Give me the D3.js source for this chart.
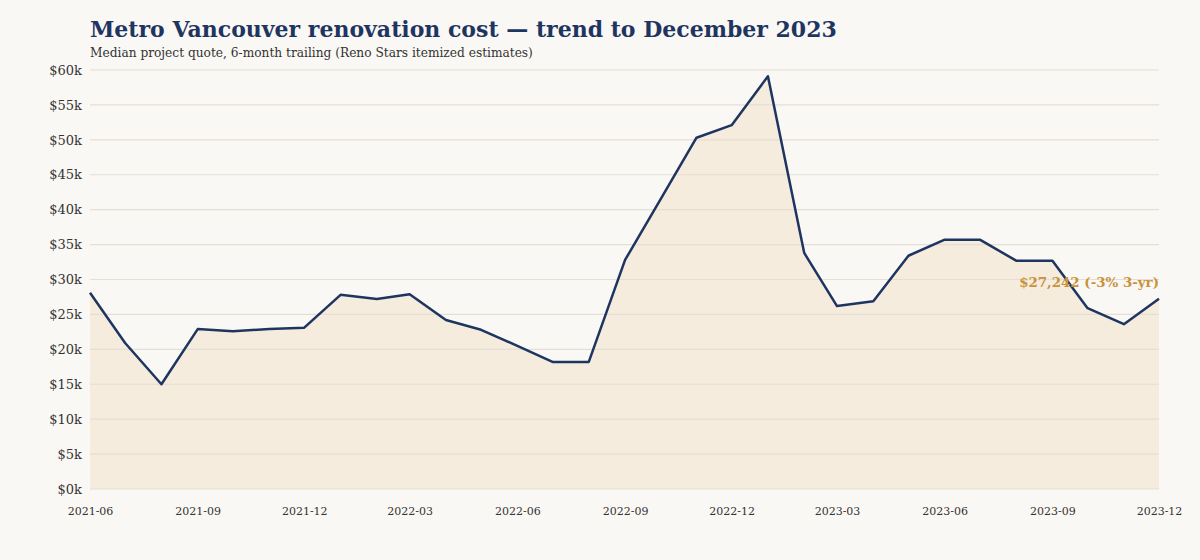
<!DOCTYPE html>
<html>
<head>
<meta charset="utf-8">
<script src="https://cdn.jsdelivr.net/npm/d3@7"></script>
<style>
  body { margin: 0; background: #faf8f4; }
  svg { display: block; font-family: Georgia, "DejaVu Serif", serif; }
</style>
</head>
<body>
<div id="chart"></div>
<script>
"use strict"
// Monthly 6-month trailing median quote, 2021-06 .. 2023-12
var months = [
    "2021-06", "2021-07", "2021-08", "2021-09", "2021-10", "2021-11", "2021-12",
    "2022-01", "2022-02", "2022-03", "2022-04", "2022-05", "2022-06", "2022-07",
    "2022-08", "2022-09", "2022-10", "2022-11", "2022-12", "2023-01", "2023-02",
    "2023-03", "2023-04", "2023-05", "2023-06", "2023-07", "2023-08", "2023-09",
    "2023-10", "2023-11", "2023-12"
];
var medianQuote = [
    28100, 20900, 15000, 22900, 22600, 22900, 23100,
    27800, 27200, 27900, 24200, 22800, 20500, 18200,
    18200, 32800, 41400, 50300, 52100, 59100, 33800,
    26200, 26900, 33400, 35700, 35700, 32700, 32700,
    25900, 23600, 27242
];
var yTicks = [0, 5000, 10000, 15000, 20000, 25000, 30000, 35000, 40000, 45000, 50000, 55000, 60000];
var xTickLabels = ["2021-06", "2021-09", "2021-12", "2022-03", "2022-06", "2022-09", "2022-12", "2023-03", "2023-06", "2023-09", "2023-12"];
var title = "Metro Vancouver renovation cost \u2014 trend to December 2023";
var subtitle = "Median project quote, 6-month trailing (Reno Stars itemized estimates)";
var endNote = "$27,242 (-3% 3-yr)";

var width = 1200, height = 560;
var margin = {top: 70, right: 41, bottom: 71, left: 90};
var drawWidth = width - margin.left - margin.right;
var drawHeight = height - margin.top - margin.bottom;

var parse = d3.timeParse("%Y-%m");
var data = months.map(function(m, i) { return {date: parse(m), value: medianQuote[i]}; });

var xScale = d3.scaleTime().domain(d3.extent(data, function(d) { return d.date; })).range([0, drawWidth]);
var yScale = d3.scaleLinear().domain([0, 60000]).range([drawHeight, 0]);

var svg = d3.select("#chart").append("svg").attr("width", width).attr("height", height);
svg.append("rect").attr("width", width).attr("height", height).attr("fill", "#faf8f4");

svg.append("text")
    .attr("x", 90).attr("y", 37)
    .attr("fill", "#1f3561")
    .style("font-size", "22px").style("font-weight", "bold")
    .text(title);
svg.append("text")
    .attr("x", 90).attr("y", 57)
    .attr("fill", "#333")
    .style("font-size", "12.2px")
    .text(subtitle);

var g = svg.append("g").attr("transform", "translate(" + margin.left + "," + margin.top + ")");

// area under the line
var area = d3.area()
    .x(function(d) { return xScale(d.date); })
    .y0(drawHeight)
    .y1(function(d) { return yScale(d.value); });
g.append("path").datum(data).attr("d", area).attr("fill", "#f5ecdd");

// gridlines
g.selectAll(".grid").data(yTicks).enter().append("line")
    .attr("class", "grid")
    .attr("x1", 0).attr("x2", drawWidth)
    .attr("y1", function(d) { return yScale(d); })
    .attr("y2", function(d) { return yScale(d); })
    .attr("stroke", "#e4ded4").attr("stroke-width", 1.2);

// y axis
var yAxis = d3.axisLeft(yScale).tickValues(yTicks).tickSize(0).tickPadding(8)
    .tickFormat(function(d) { return "$" + (d / 1000) + "k"; });
var yG = g.append("g").call(yAxis).attr("font-family", null).attr("font-size", null);
yG.select(".domain").remove();
yG.selectAll("text").attr("fill", "#333").style("font-size", "13px");

// x axis
var xAxis = d3.axisBottom(xScale).tickValues(xTickLabels.map(parse)).tickSize(0).tickPadding(18)
    .tickFormat(d3.timeFormat("%Y-%m"));
var xG = g.append("g").attr("transform", "translate(0," + drawHeight + ")").call(xAxis)
    .attr("font-family", null).attr("font-size", null);
xG.select(".domain").remove();
xG.selectAll("text").attr("fill", "#333").style("font-size", "11px");

// line
var line = d3.line()
    .x(function(d) { return xScale(d.date); })
    .y(function(d) { return yScale(d.value); });
g.append("path").datum(data).attr("d", line)
    .attr("fill", "none")
    .attr("stroke", "#1f3561")
    .attr("stroke-width", 2.5)
    .attr("stroke-linejoin", "round");

// end annotation
var last = data[data.length - 1];
g.append("text")
    .attr("x", xScale(last.date))
    .attr("y", yScale(last.value) - 12)
    .attr("text-anchor", "end")
    .attr("fill", "#c8923a")
    .style("font-size", "13.4px").style("font-weight", "bold")
    .text(endNote);
</script>
</body>
</html>
